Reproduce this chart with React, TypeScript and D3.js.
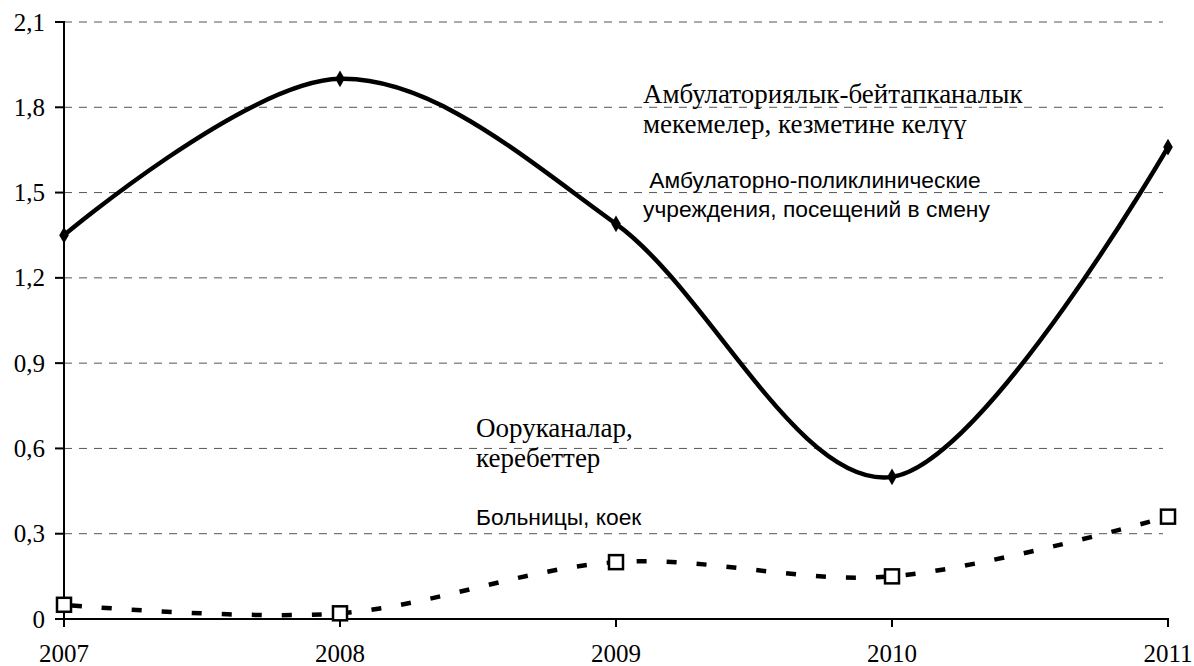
import * as d3 from 'd3';

const years = [2007, 2008, 2009, 2010, 2011];
const outpatientVisits = [1.35, 1.9, 1.39, 0.5, 1.66];
const hospitalBeds = [0.05, 0.02, 0.2, 0.15, 0.36];
const yTicks = [0, 0.3, 0.6, 0.9, 1.2, 1.5, 1.8, 2.1];

const outpatientNoteKy = ['Амбулаториялык-бейтапканалык', 'мекемелер, кезметине келүү'];
const outpatientNoteRu = [' Амбулаторно-поликлинические', 'учреждения, посещений в смену'];
const hospitalNoteKy = ['Ооруканалар,', 'керебеттер'];
const hospitalNoteRu = ['Больницы, коек'];

const serif = "'Liberation Serif', 'Times New Roman', 'DejaVu Serif', serif";
const sans = "'Liberation Sans', Arial, sans-serif";

export default function App(): React.ReactNode {
  const width = 1194;
  const height = 666;
  const margin = { top: 22, right: 26, bottom: 47, left: 64 };

  const x = d3
    .scaleLinear()
    .domain([2007, 2011])
    .range([margin.left, width - margin.right]);
  const y = d3
    .scaleLinear()
    .domain([0, 2.1])
    .range([height - margin.bottom, margin.top]);

  const line = d3
    .line<number>()
    .x((_, i) => x(years[i]))
    .y((d) => y(d))
    .curve(d3.curveCardinal.tension(0));

  const x0 = x(2007);
  const x1 = x(2011);
  const y0 = y(0);

  const fmt = (v: number) => (v === 0 ? '0' : d3.format('.1f')(v).replace('.', ','));
  const tickStyle = { fontFamily: serif, fontSize: 25 };
  const noteStyle = { fontFamily: serif, fontSize: 27 };
  const sansStyle = { fontFamily: sans, fontSize: 22.8 };

  return (
    <svg
      width={width}
      height={height}
      style={{ position: 'absolute', left: 0, top: 0, background: '#fff' }}
    >
      {/* grid */}
      {yTicks
        .filter((t) => t > 0)
        .map((t) => (
          <line
            key={t}
            x1={x0}
            x2={x1 - 5}
            y1={y(t)}
            y2={y(t)}
            stroke="#555"
            strokeWidth={1}
            strokeDasharray="8 7"
          />
        ))}

      {/* axes */}
      <line x1={x0} x2={x0} y1={y(2.1) - 1} y2={y0 + 8} stroke="#000" strokeWidth={2} />
      <line x1={x0 - 9} x2={x1 + 1} y1={y0} y2={y0} stroke="#000" strokeWidth={2} />
      {yTicks.map((t) => (
        <g key={t}>
          <line x1={x0 - 9} x2={x0} y1={y(t)} y2={y(t)} stroke="#000" strokeWidth={2} />
          <text x={45} y={y(t)} dy="0.34em" textAnchor="end" style={tickStyle} fill="#000">
            {fmt(t)}
          </text>
        </g>
      ))}
      {years.map((yr) => (
        <g key={yr}>
          <line x1={x(yr)} x2={x(yr)} y1={y0} y2={y0 + 8} stroke="#000" strokeWidth={2} />
          <text x={x(yr)} y={662} textAnchor="middle" style={tickStyle} fill="#000">
            {yr}
          </text>
        </g>
      ))}

      {/* hospital beds */}
      <path
        d={line(hospitalBeds) ?? ''}
        fill="none"
        stroke="#000"
        strokeWidth={4.5}
        strokeDasharray="10 20"
        strokeDashoffset={-8}
      />
      {hospitalBeds.map((v, i) => (
        <rect
          key={i}
          x={x(years[i]) - 7}
          y={y(v) - 7}
          width={14}
          height={14}
          fill="#fff"
          stroke="#000"
          strokeWidth={2.5}
        />
      ))}

      {/* outpatient visits */}
      <path d={line(outpatientVisits) ?? ''} fill="none" stroke="#000" strokeWidth={4.5} />
      {outpatientVisits.map((v, i) => (
        <path
          key={i}
          d={d3.symbol(d3.symbolDiamond, 80)() ?? ''}
          transform={`translate(${x(years[i])},${y(v)})`}
          fill="#000"
        />
      ))}

      {/* notes */}
      {outpatientNoteKy.map((s, i) => (
        <text key={s} x={643} y={103 + i * 30} style={noteStyle} fill="#000">
          {s}
        </text>
      ))}
      {hospitalNoteKy.map((s, i) => (
        <text key={s} x={476} y={437 + i * 30} style={noteStyle} fill="#000">
          {s}
        </text>
      ))}
      {outpatientNoteRu.map((s, i) => (
        <text key={s} x={643} y={188 + i * 29} style={{ ...sansStyle, whiteSpace: 'pre' }} fill="#000">
          {s}
        </text>
      ))}
      {hospitalNoteRu.map((s) => (
        <text key={s} x={476} y={525} style={sansStyle} fill="#000">
          {s}
        </text>
      ))}
    </svg>
  );
}
